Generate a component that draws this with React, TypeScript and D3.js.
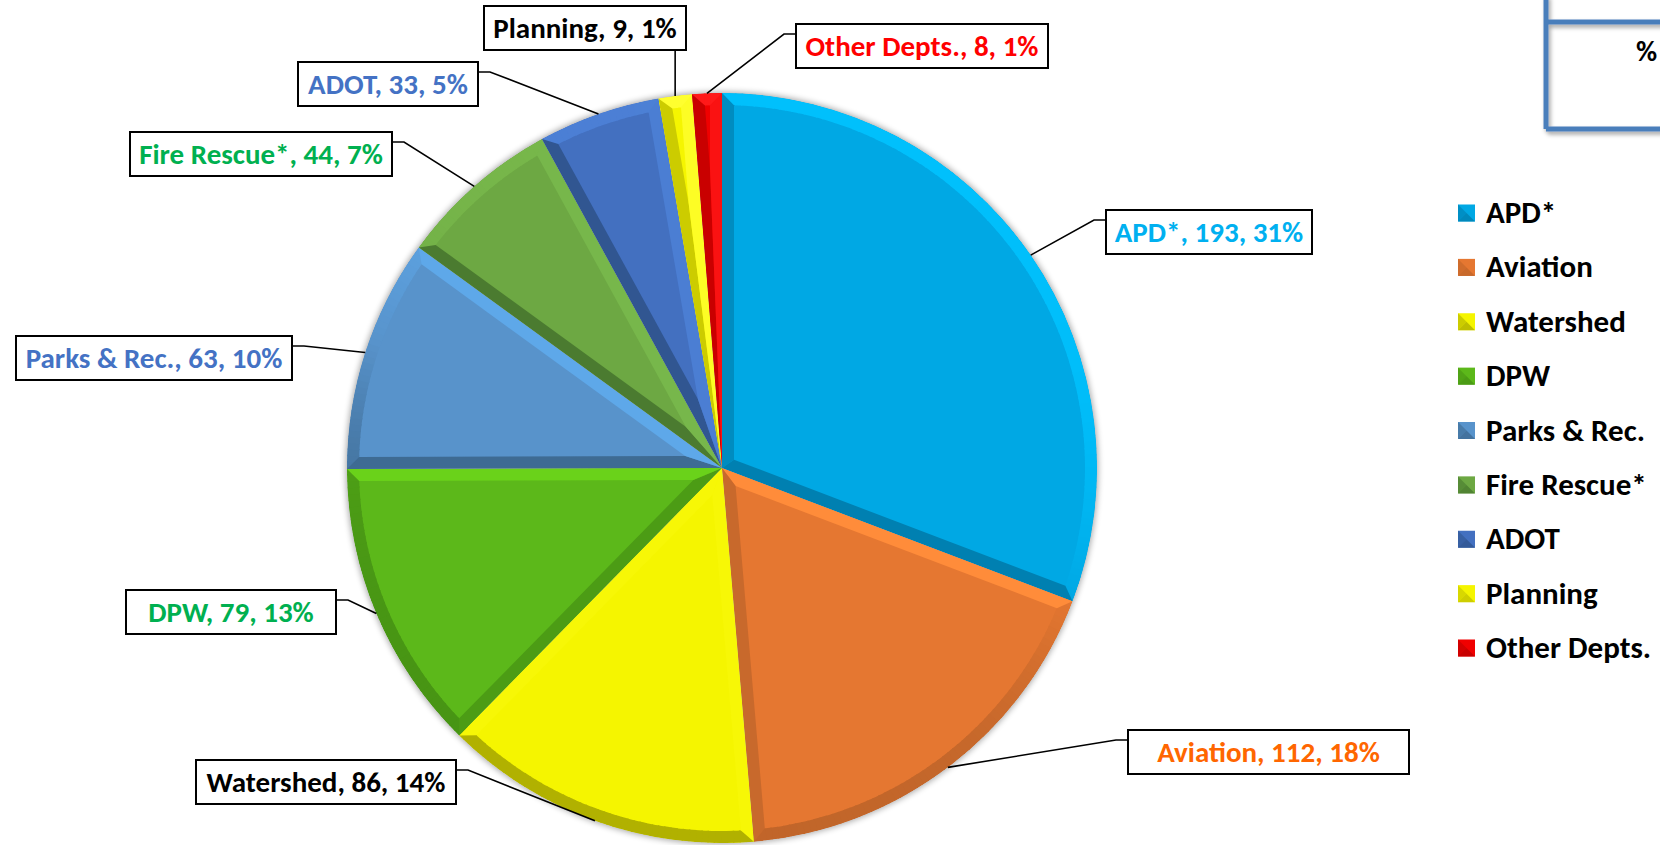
import React from 'react';
import * as d3 from 'd3';

// ---------- data ----------
const CATEGORIES = ['APD*', 'Aviation', 'Watershed', 'DPW', 'Parks & Rec.', 'Fire Rescue*', 'ADOT', 'Planning', 'Other Depts.'];
const VALUES = [193, 112, 86, 79, 63, 44, 33, 9, 8];

// ---------- styles ----------
const FACE = ['#00A8E4', '#E57731', '#F5F500', '#5CB81A', '#5893CB', '#6DA843', '#4370C0', '#F5F500', '#F00000'];
const LIGHT = ['#00C0FC', '#FF8C3A', '#F8F808', '#6AD21A', '#5EA8EA', '#78B84B', '#4C80D6', '#FFFF30', '#FF1A1A'];
const DARK = ['#007FB0', '#C0652A', '#B0B000', '#479414', '#3E6A92', '#4A7A30', '#30558F', '#C4C400', '#BE0000'];
const LABEL_COLORS = ['#00B0F0', '#FF6600', '#000000', '#00B050', '#4472C4', '#00B050', '#4472C4', '#000000', '#FF0000'];

// label box placement (layout)
const LABEL_BOXES = [
  { x: 1106, y: 210, w: 206, side: 'left' },
  { x: 1128, y: 730, w: 281, side: 'left' },
  { x: 196, y: 760, w: 260, side: 'right' },
  { x: 126, y: 590, w: 210, side: 'right' },
  { x: 16, y: 336, w: 276, side: 'right' },
  { x: 130, y: 132, w: 262, side: 'right' },
  { x: 298, y: 62, w: 180, side: 'right' },
  { x: 484, y: 6, w: 202, side: 'bottom' },
  { x: 796, y: 24, w: 252, side: 'left' },
];

const W = 1660;
const H = 845;
const CX = 722;
const CY = 468;
const R = 375;
const BW = 12;
const BOX_H = 44;
const FONT = 'Carlito, Lato, "Open Sans", sans-serif';
const LIGHT_DIR = (20 * Math.PI) / 180;
const L: [number, number] = [Math.sin(LIGHT_DIR), -Math.cos(LIGHT_DIR)];

const u = (a: number): [number, number] => [Math.sin(a), -Math.cos(a)];

function shade(i: number, n: [number, number]) {
  const dot = n[0] * L[0] + n[1] * L[1];
  const t = Math.tanh(2.5 * dot);
  return t >= 0 ? d3.interpolateRgb(FACE[i], LIGHT[i])(t) : d3.interpolateRgb(FACE[i], DARK[i])(-t);
}

const poly = (pts: [number, number][]) => 'M' + pts.map((p) => p[0].toFixed(2) + ',' + p[1].toFixed(2)).join('L') + 'Z';

export default function App() {
  const total = d3.sum(VALUES);
  const pie = d3.pie<number>().sort(null).value((d) => d);
  const arcs = pie(VALUES);
  const arcGen = d3.arc<any>().innerRadius(0).outerRadius(R);
  const rimGen = d3.arc<any>().innerRadius(R - BW).outerRadius(R);

  const legendY = d3.scalePoint<number>().domain(d3.range(CATEGORIES.length)).range([213, 648]);

  const slices = arcs.map((a, i) => {
    const a0 = a.startAngle;
    const a1 = a.endAngle;
    const theta = a1 - a0;
    const mid = (a0 + a1) / 2;
    const rho = R - BW;
    const tt = Math.sqrt(rho * rho - BW * BW);
    const nin0: [number, number] = [Math.cos(a0), Math.sin(a0)];
    const nin1: [number, number] = [-Math.cos(a1), -Math.sin(a1)];
    const d = BW / Math.sin(theta / 2);
    const O: [number, number] = [0, 0];
    const out0: [number, number] = [R * u(a0)[0], R * u(a0)[1]];
    const out1: [number, number] = [R * u(a1)[0], R * u(a1)[1]];
    let q0: [number, number][];
    let q1: [number, number][];
    if (d < rho * 0.95) {
      const in0: [number, number] = [tt * u(a0)[0] + BW * nin0[0], tt * u(a0)[1] + BW * nin0[1]];
      const in1: [number, number] = [tt * u(a1)[0] + BW * nin1[0], tt * u(a1)[1] + BW * nin1[1]];
      const apex: [number, number] = [d * u(mid)[0], d * u(mid)[1]];
      q0 = [O, out0, in0, apex];
      q1 = [O, out1, in1, apex];
    } else {
      const m: [number, number] = [R * 1.01 * u(mid)[0], R * 1.01 * u(mid)[1]];
      q0 = [O, out0, m];
      q1 = [O, out1, m];
    }
    const c0 = shade(i, [-nin0[0], -nin0[1]]);
    const c1 = shade(i, [-nin1[0], -nin1[1]]);
    const nSeg = Math.max(1, Math.ceil(theta / ((1 * Math.PI) / 180)));
    const segs = d3.range(nSeg).map((k) => {
      const s = a0 + (theta * k) / nSeg;
      const e = a0 + (theta * (k + 1)) / nSeg;
      const m = (s + e) / 2;
      return { d: rimGen({ startAngle: s, endAngle: Math.min(a1, e + 0.004) }) as string, c: shade(i, u(m)) };
    });
    return { a, i, path: arcGen(a) as string, q0: poly(q0), q1: poly(q1), c0, c1, segs, mid };
  });

  const labels = arcs.map((a, i) => {
    const mid = (a.startAngle + a.endAngle) / 2;
    const p: [number, number] = [CX + R * u(mid)[0], CY + R * u(mid)[1]];
    const b = LABEL_BOXES[i];
    let pts: [number, number][];
    if (b.side === 'left') {
      pts = [[b.x, b.y + 10], [b.x - 12, b.y + 10], p];
    } else if (b.side === 'right') {
      pts = [[b.x + b.w, b.y + 10], [b.x + b.w + 12, b.y + 10], p];
    } else {
      pts = [[p[0], b.y + BOX_H], p];
    }
    const pct = Math.round((VALUES[i] / total) * 100);
    return { i, b, pts, text: `${CATEGORIES[i]}, ${VALUES[i]}, ${pct}%` };
  });

  return (
    <svg width={W} height={H} style={{ position: 'absolute', left: 0, top: 0, background: '#fff' }} fontFamily={FONT}>
      <defs>
        <filter id="pieShadow" x="-10%" y="-10%" width="120%" height="120%">
          <feGaussianBlur stdDeviation="3" />
        </filter>
        <filter id="boxShadow" x="-20%" y="-20%" width="140%" height="140%">
          <feDropShadow dx="2" dy="3" stdDeviation="2" floodColor="#000" floodOpacity="0.35" />
        </filter>
        {slices.map((s) => (
          <clipPath id={`clip${s.i}`} key={s.i}>
            <path d={s.path} />
          </clipPath>
        ))}
      </defs>
      <rect width={W} height={H} fill="#fff" />

      {/* top-right table fragment */}
      <g filter="url(#boxShadow)" fill="none" stroke="#4A7EBB" strokeWidth={5}>
        <line x1={1546} y1={-5} x2={1546} y2={129} />
        <line x1={1546} y1={22} x2={W + 5} y2={22} />
        <line x1={1546} y1={129} x2={W + 5} y2={129} />
      </g>
      <text x={1636} y={61} fontSize={29} fontWeight={700} fill="#000">%</text>

      {/* pie */}
      <g transform={`translate(${CX},${CY})`}>
        <circle r={R + 1} fill="#000" opacity={0.35} filter="url(#pieShadow)" />
        {slices.map((s) => (
          <g key={s.i} clipPath={`url(#clip${s.i})`}>
            <path d={s.path} fill={FACE[s.i]} />
            {s.segs.map((g, k) => (
              <path key={k} d={g.d} fill={g.c} />
            ))}
            <path d={s.q0} fill={s.c0} />
            <path d={s.q1} fill={s.c1} />
          </g>
        ))}
      </g>

      {/* leader lines & labels */}
      {labels.map((l) => (
        <g key={l.i}>
          <path d={d3.line()(l.pts) as string} fill="none" stroke="#000" strokeWidth={1.6} />
          <rect x={l.b.x} y={l.b.y} width={l.b.w} height={BOX_H} fill="#fff" stroke="#000" strokeWidth={2} />
          <text
            x={l.b.x + l.b.w / 2}
            y={l.b.y + 32}
            textAnchor="middle"
            fontSize={29}
            fontWeight={700}
            fill={LABEL_COLORS[l.i]}
          >
            {l.text}
          </text>
        </g>
      ))}

      {/* legend */}
      {CATEGORIES.map((c, i) => {
        const y = legendY(i) as number;
        const x0 = 1458;
        const s = 17;
        return (
          <g key={c}>
            <rect x={x0} y={y - s / 2} width={s} height={s} fill={FACE[i]} />
            <path d={poly([[x0, y + s / 2], [x0, y - s / 2], [x0 + s / 2, y]])} fill={DARK[i]} opacity={0.6} />
            <path d={poly([[x0, y + s / 2], [x0 + s, y + s / 2], [x0 + s / 2, y]])} fill={DARK[i]} opacity={0.8} />
            <text x={1486} y={y + 10} fontSize={31} fontWeight={700} fill="#000">
              {c}
            </text>
          </g>
        );
      })}
    </svg>
  );
}
